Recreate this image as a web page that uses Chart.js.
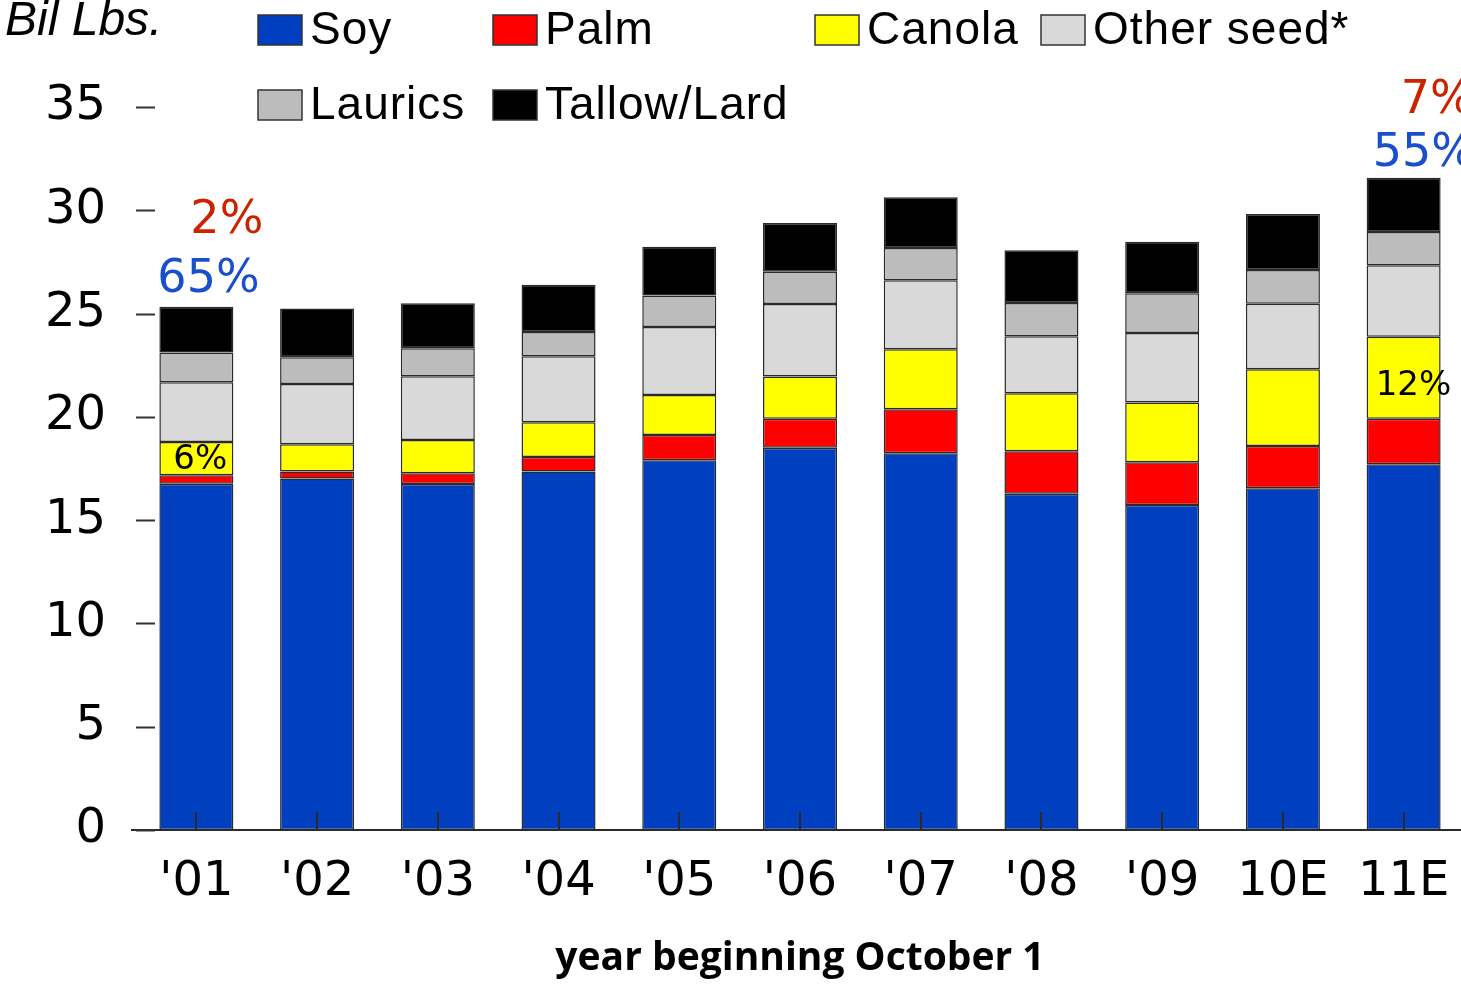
<!DOCTYPE html>
<html>
<head>
<meta charset="utf-8">
<script src="https://cdn.jsdelivr.net/npm/chart.js@4.4.0/dist/chart.umd.min.js"></script>
<style>
  html, body { margin: 0; padding: 0; background: #fff; overflow: hidden; }
  .chart-container { position: relative; width: 1464px; height: 984px; }
</style>
</head>
<body>
<div class="chart-container"><canvas id="oilsChart"></canvas></div>
<script>
// years (crop year beginning October 1)
const years = ["'01", "'02", "'03", "'04", "'05", "'06", "'07", "'08", "'09", "10E", "11E"];

// billion lbs
const soy     = [16.76, 17.01, 16.75, 17.35, 17.90, 18.51, 18.24, 16.28, 15.73, 16.54, 17.70];
const palm    = [0.41, 0.34, 0.52, 0.71, 1.22, 1.40, 2.13, 2.05, 2.07, 2.05, 2.21];
const canola  = [1.61, 1.32, 1.61, 1.68, 1.94, 2.04, 2.90, 2.81, 2.89, 3.71, 3.97];
const otherSeed = [2.89, 2.92, 3.08, 3.19, 3.29, 3.51, 3.34, 2.76, 3.37, 3.18, 3.46];
const laurics = [1.45, 1.29, 1.36, 1.18, 1.53, 1.57, 1.56, 1.61, 1.92, 1.63, 1.61];
const tallow  = [2.21, 2.37, 2.18, 2.29, 2.36, 2.35, 2.46, 2.55, 2.50, 2.71, 2.63];

const yTicks = [0, 5, 10, 15, 20, 25, 30, 35];

// share call-outs on first and last bar
const shareNotes = [
  { bar: 0, text: "2%", color: "#cc2200", dx: -6, y: 29.5, size: 46 },
  { bar: 0, text: "65%", color: "#1a4fcc", dx: -39, y: 26.6, size: 46 },
  { bar: 0, text: "6%", color: "#000", dx: -23, y: 17.9, size: 34 },
  { bar: 10, text: "7%", color: "#cc2200", dx: -3, y: 35.3, size: 46 },
  { bar: 10, text: "55%", color: "#1a4fcc", dx: -31, y: 32.7, size: 46 },
  { bar: 10, text: "12%", color: "#000", dx: -28, y: 21.5, size: 34 },
];

const datasets = [
  { label: "Soy", data: soy, backgroundColor: "#0040c0" },
  { label: "Palm", data: palm, backgroundColor: "#ff0000" },
  { label: "Canola", data: canola, backgroundColor: "#ffff00" },
  { label: "Other seed*", data: otherSeed, backgroundColor: "#d9d9d9" },
  { label: "Laurics", data: laurics, backgroundColor: "#bcbcbc" },
  { label: "Tallow/Lard", data: tallow, backgroundColor: "#000000" },
].map((d) => ({
  ...d,
  borderColor: "#2a2a2a",
  borderWidth: 1.5,
  borderSkipped: false,
  barPercentage: 0.613,
  categoryPercentage: 1,
}));

// legend spots: [x of box, row]
const legendSpots = [[258, 0], [493, 0], [815, 0], [1041, 0], [258, 1], [493, 1]];

const decorations = {
  id: "decorations",
  afterDatasetsDraw(chart) {
    const ctx = chart.ctx;
    const x = chart.scales.x;
    const y = chart.scales.y;
    const base = y.getPixelForValue(0);
    ctx.save();
    ctx.strokeStyle = "#2a2a2a";
    ctx.lineWidth = 2;
    // axis line
    ctx.beginPath();
    ctx.moveTo(131, base);
    ctx.lineTo(1461, base);
    ctx.stroke();
    // x ticks, pointing up into the bars
    years.forEach((_, i) => {
      const px = Math.round(x.getPixelForValue(i));
      ctx.beginPath();
      ctx.moveTo(px, base);
      ctx.lineTo(px, base - 18);
      ctx.stroke();
    });
    // y tick dashes
    ctx.strokeStyle = "#333";
    yTicks.forEach((v) => {
      const py = Math.round(y.getPixelForValue(v)) + 0.5;
      ctx.beginPath();
      ctx.moveTo(136, py);
      ctx.lineTo(155, py);
      ctx.stroke();
    });
    ctx.restore();
  },
  afterDraw(chart) {
    const ctx = chart.ctx;
    const x = chart.scales.x;
    const y = chart.scales.y;
    ctx.save();
    ctx.textBaseline = "middle";

    // unit label
    ctx.fillStyle = "#000";
    ctx.font = "italic 48px 'Liberation Sans', Arial, sans-serif";
    ctx.textAlign = "left";
    ctx.fillText("Bil Lbs.", 5, 22);

    // legend
    ctx.font = "46px 'Liberation Sans', Arial, sans-serif";
    ctx.letterSpacing = "1px";
    chart.data.datasets.forEach((ds, i) => {
      const [bx, row] = legendSpots[i];
      const cy = row === 0 ? 30 : 105;
      ctx.fillStyle = ds.backgroundColor;
      ctx.fillRect(bx, cy - 15, 44, 30);
      ctx.strokeStyle = "#333";
      ctx.lineWidth = 1.5;
      ctx.strokeRect(bx, cy - 15, 44, 30);
      ctx.fillStyle = "#000";
      ctx.fillText(ds.label, bx + 52, cy + 1);
    });
    ctx.letterSpacing = "0px";

    // share call-outs
    shareNotes.forEach((n) => {
      ctx.font = n.size + "px 'DejaVu Sans', sans-serif";
      ctx.fillStyle = n.color;
      ctx.fillText(n.text, x.getPixelForValue(n.bar) + n.dx, y.getPixelForValue(n.y));
    });
    ctx.restore();
  },
};

new Chart(document.getElementById("oilsChart"), {
  type: "bar",
  data: { labels: years, datasets: datasets },
  options: {
    responsive: true,
    maintainAspectRatio: false,
    animation: false,
    layout: { padding: { top: 107, right: 0, bottom: 0, left: 0 } },
    plugins: {
      legend: { display: false },
      tooltip: { enabled: false },
    },
    scales: {
      x: {
        stacked: true,
        grid: { display: false, drawTicks: false },
        border: { display: false },
        ticks: {
          color: "#000",
          padding: 12,
          font: { family: "'DejaVu Sans', sans-serif", size: 48, lineHeight: 1.7 },
        },
        title: {
          display: true,
          text: "year beginning October 1",
          color: "#000",
          padding: { top: 0, bottom: 2 },
          font: { family: "'Open Sans', sans-serif", size: 39, weight: "bold" },
        },
        afterFit: (scale) => { scale.height = 154; },
      },
      y: {
        stacked: true,
        min: 0,
        max: 35,
        grid: { display: false, drawTicks: false },
        border: { display: false },
        ticks: {
          stepSize: 5,
          color: "#000",
          padding: 30,
          font: { family: "'DejaVu Sans', sans-serif", size: 48 },
        },
        afterFit: (scale) => { scale.width = 136; },
      },
    },
  },
  plugins: [decorations],
});
</script>
</body>
</html>
